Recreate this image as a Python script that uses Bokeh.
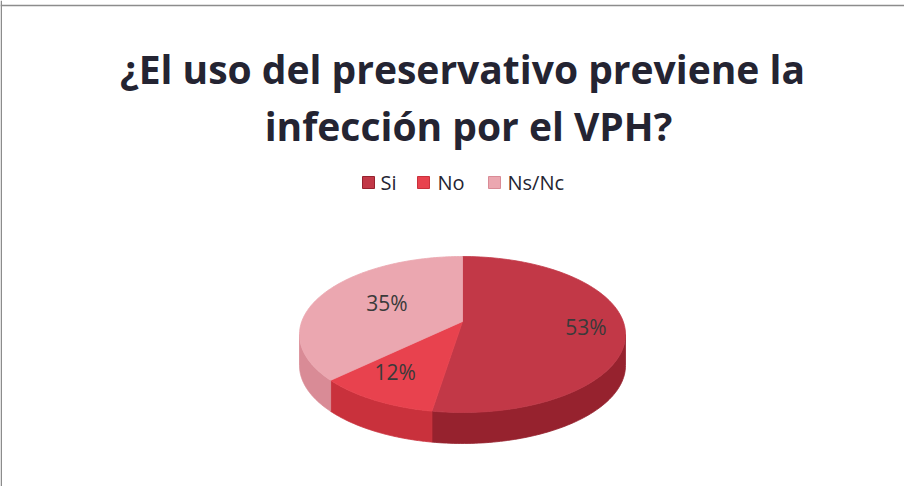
import numpy as np
from bokeh.plotting import figure
from bokeh.models import Range1d, Span
from bokeh.core.properties import value
from bokeh.embed import file_html
from bokeh.resources import INLINE

# ---------------- data ----------------
title_lines = ["¿El uso del preservativo previene la", "infección por el VPH?"]
categories = ["Si", "No", "Ns/Nc"]
percentages = [53, 12, 35]

# ---------------- styles ----------------
top_colors = ["#C23847", "#E8424E", "#EBA7B0"]
side_colors = ["#96222E", "#C9313C", "#D98B96"]
text_color = "#242432"
label_color = "#3A3A3A"
FONT = "Open Sans"

# ---------------- layout (pixel space of the figure) ----------------
W, H = 904, 486
cx, cy = 462, 334          # ellipse centre of top face
a, b = 163, 78             # ellipse half axes
depth = 31                 # pie thickness
apex = (462, 321)          # where slices meet (perspective)
label_r = [0.76, 0.77, 0.52]
legend_sq_x = [368, 423, 494]
legend_txt_x = [380, 437, 507]
legend_y = 182
title_x = [462, 468]
title_y = [68, 125]

p = figure(width=W, height=H, x_range=Range1d(0, W), y_range=Range1d(H, 0),
           output_backend="svg", toolbar_location=None, min_border=0,
           outline_line_color=None, x_axis_location=None, y_axis_location=None,
           background_fill_color="white", border_fill_color="white")
p.grid.visible = False

# border (top and left edges of the chart area)
p.add_layout(Span(location=5, dimension="width", line_color="#8C8C8C", line_width=1.5))
p.add_layout(Span(location=0.75, dimension="height", line_color="#8C8C8C", line_width=1.5))

# slice angles (clockwise from 12 o'clock)
vals = np.array(percentages, dtype=float)
fr = vals / vals.sum()
starts = 90 - 360 * np.concatenate([[0], np.cumsum(fr)[:-1]])
ends = starts - 360 * fr

def ell(t_deg, dy=0.0):
    t = np.radians(t_deg)
    return cx + a * np.cos(t), cy - b * np.sin(t) + dy

# sides (front half: angles in [-180, 0])
sx, sy, sc = [], [], []
for s, e, col in zip(starts, ends, side_colors):
    for shift in (0, -360, 360):
        lo = max(e, -180 + shift)
        hi = min(s, 0 + shift)
        if hi > lo:
            ts = np.linspace(lo, hi, 80)
            x1, y1 = ell(ts)
            x2, y2 = ell(ts[::-1], depth)
            sx.append(list(x1) + list(x2))
            sy.append(list(y1) + list(y2))
            sc.append(col)
p.patches(sx, sy, fill_color=sc, line_color=sc, line_width=0.8)

# top faces
tx, ty = [], []
for s, e in zip(starts, ends):
    ts = np.linspace(s, e, 120)
    x1, y1 = ell(ts)
    tx.append([apex[0]] + list(x1))
    ty.append([apex[1]] + list(y1))
p.patches(tx, ty, fill_color=top_colors, line_color=top_colors, line_width=0.8)

# data labels
mids = np.radians((starts + ends) / 2)
lx = [apex[0] + r * a * np.cos(m) for r, m in zip(label_r, mids)]
ly = [apex[1] - r * b * np.sin(m) for r, m in zip(label_r, mids)]
p.text(lx, ly, text=[f"{v}%" for v in percentages], text_align="center",
       text_baseline="middle", text_font=value(FONT), text_font_size="21px",
       text_color=label_color)

# legend
p.scatter(legend_sq_x, [legend_y] * 3, marker="square", size=12,
          fill_color=top_colors, line_color=side_colors, line_width=1)
p.text(legend_txt_x, [legend_y] * 3, text=categories, text_align="left",
       text_baseline="middle", text_font=value(FONT), text_font_size="20px",
       text_color=text_color)

# title
p.text(title_x, title_y, text=title_lines, text_align="center",
       text_baseline="alphabetic", text_font=value(FONT), text_font_size="39px",
       text_font_style="bold", text_color=text_color)

open("out.html", "w").write(file_html(p, INLINE))
